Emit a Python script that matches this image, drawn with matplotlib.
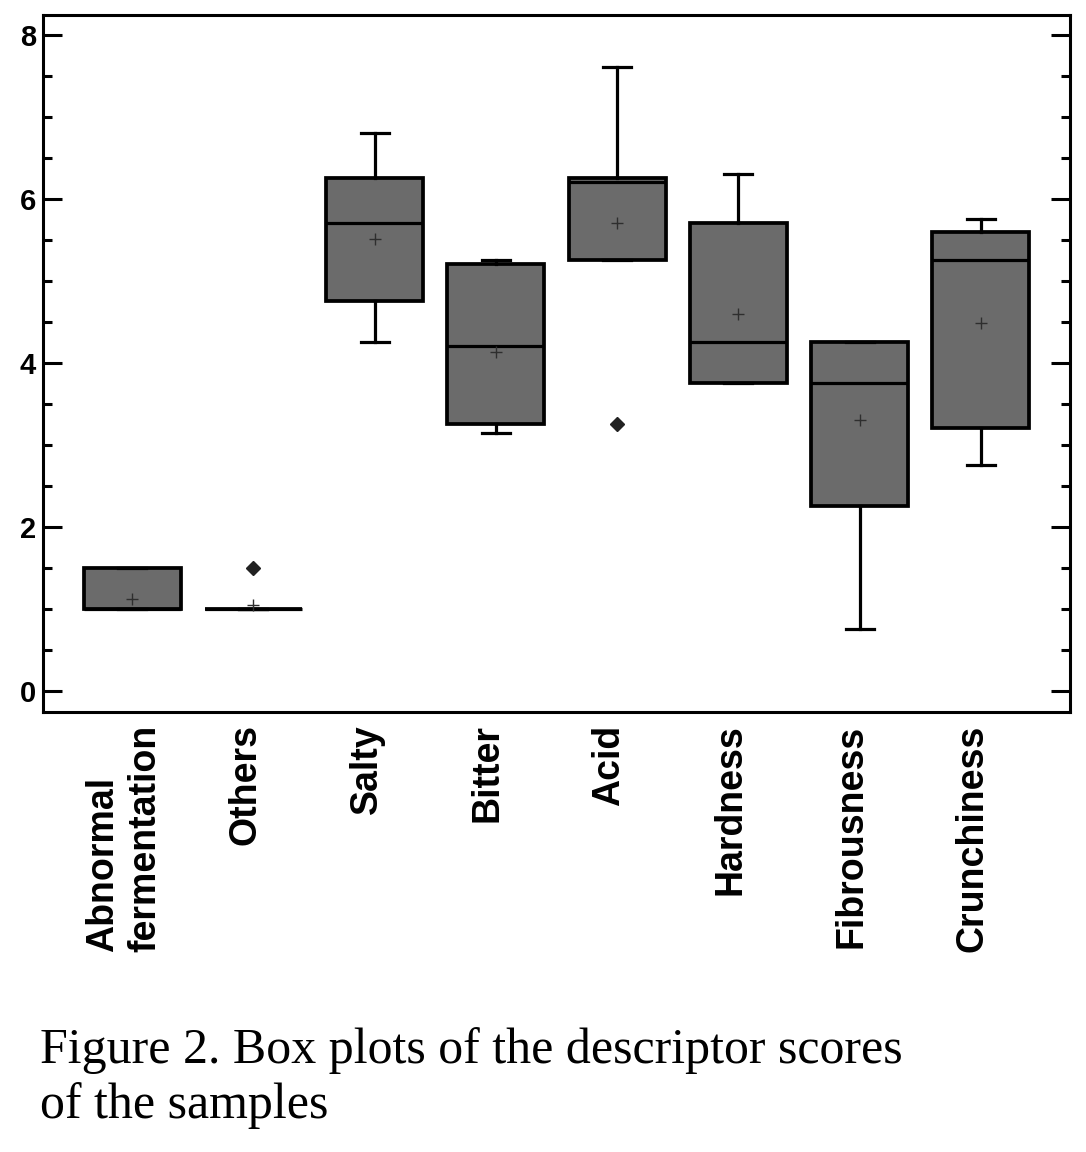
import matplotlib
matplotlib.use("Agg")
import matplotlib.pyplot as plt
from matplotlib.transforms import ScaledTranslation

descriptors = ["Abnormal\nfermentation", "Others", "Salty", "Bitter",
               "Acid", "Hardness", "Fibrousness", "Crunchiness"]
q1 = [1.0, 1.0, 4.75, 3.25, 5.25, 3.75, 2.25, 3.2]
medians = [1.0, 1.0, 5.7, 4.2, 6.2, 4.25, 3.75, 5.25]
q3 = [1.5, 1.0, 6.25, 5.2, 6.25, 5.7, 4.25, 5.6]
whisker_low = [1.0, 1.0, 4.25, 3.15, 5.25, 3.75, 0.75, 2.75]
whisker_high = [1.5, 1.0, 6.8, 5.25, 7.6, 6.3, 4.25, 5.75]
means = [1.12, 1.05, 5.51, 4.13, 5.71, 4.6, 3.3, 4.49]
outliers = [[], [1.5], [], [], [3.25], [], [], []]
y_ticks = [0, 2, 4, 6, 8]

stats = []
for i in range(len(descriptors)):
    stats.append({
        "label": descriptors[i],
        "q1": q1[i],
        "med": medians[i],
        "q3": q3[i],
        "whislo": whisker_low[i],
        "whishi": whisker_high[i],
        "mean": means[i],
        "fliers": outliers[i],
    })

fig = plt.figure(figsize=(10.86, 11.52), dpi=100)
ax = fig.add_axes([0.0396, 0.382, 0.9457, 0.605])

lw = 2.3
ax.bxp(
    stats,
    positions=range(1, len(descriptors) + 1),
    widths=0.8,
    capwidths=0.23,
    showmeans=True,
    patch_artist=True,
    boxprops=dict(facecolor="#6b6b6b", edgecolor="black", linewidth=2.7),
    medianprops=dict(color="black", linewidth=lw),
    whiskerprops=dict(color="black", linewidth=lw),
    capprops=dict(color="black", linewidth=lw),
    meanprops=dict(marker="+", markeredgecolor="#2e2e2e", markersize=8,
                   markeredgewidth=1.0),
    flierprops=dict(marker="D", markerfacecolor="#222222",
                    markeredgecolor="#222222", markersize=7),
)

ax.set_xlim(0.265, 8.735)
ax.set_ylim(-0.256, 8.24)

ax.set_yticks(y_ticks)
ax.set_yticklabels([str(v) for v in y_ticks], family="Liberation Sans",
                   fontweight="bold", fontsize=21)
ax.set_yticks([v * 0.5 for v in range(17)], minor=True)
ax.tick_params(axis="y", which="both", direction="in", left=True, right=True,
               width=2.2, pad=5)
ax.tick_params(axis="y", which="major", length=13.5)
ax.tick_params(axis="y", which="minor", length=6.5)

ax.tick_params(axis="x", length=0, pad=9)
ax.set_xticklabels(descriptors, rotation=90, family="Liberation Sans",
                   fontweight="bold", fontsize=27, va="top", ha="center",
                   multialignment="left")
# labels in the original sit a little left of the box centres
shift = ScaledTranslation(-8 / 100, 0, fig.dpi_scale_trans)
for lbl in ax.get_xticklabels():
    lbl.set_transform(lbl.get_transform() + shift)

for spine in ax.spines.values():
    spine.set_linewidth(2.2)

fig.text(0.037, 0.0295, "Figure 2. Box plots of the descriptor scores\nof the samples",
         family="Liberation Serif", fontsize=36, ha="left", va="baseline",
         linespacing=1.22)

fig.savefig("out.png", dpi=100)
